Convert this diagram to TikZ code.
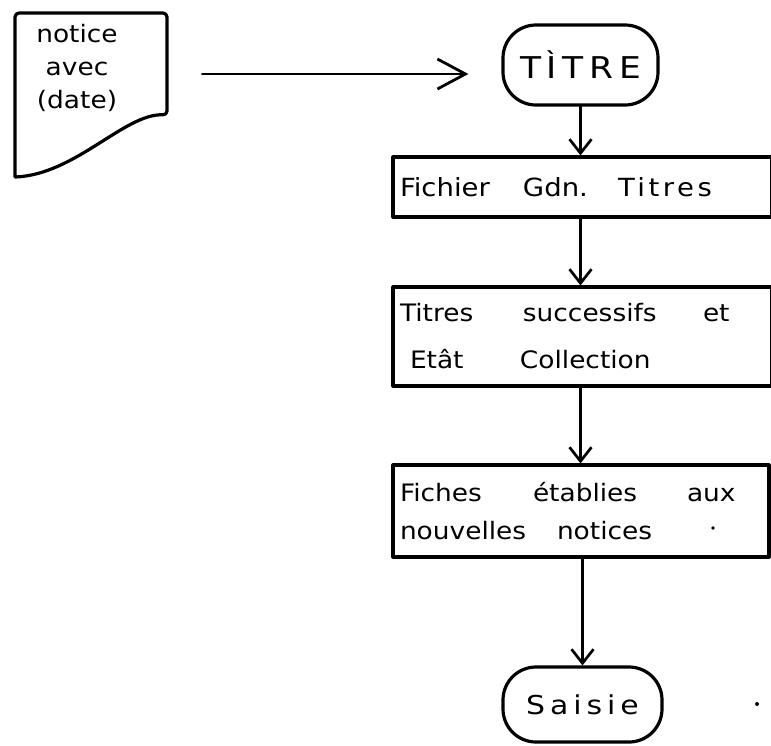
\documentclass[tikz,border=0pt]{standalone}
\usepackage{fontspec}
\setmainfont{DejaVu Sans}
\newfontfamily\hand[FakeStretch=1.1]{DejaVu Sans}
\newfontfamily\handsp[FakeStretch=1.1,LetterSpace=14]{DejaVu Sans}
\newfontfamily\handwide[FakeStretch=1.15,LetterSpace=19]{DejaVu Sans}
\usetikzlibrary{arrows.meta}
\begin{document}
\begin{tikzpicture}[x=1pt,y=-1pt,
  ink/.style={line width=3.2pt,line join=round,line cap=round},
  terminal/.style={ink,draw,rounded corners=33pt,inner sep=0pt},
  procbox/.style={ink,draw,inner xsep=7pt,inner ysep=0pt,align=left},
  arr/.style={line width=2.7pt,line cap=round,
    -{Straight Barb[length=14pt,width=22pt,line width=2.7pt]}},
  harr/.style={line width=2.7pt,line cap=round,
    -{Straight Barb[length=28pt,width=30pt,line width=2.8pt]}}]
\useasboundingbox (0,0) rectangle (771,745);
% document shape
\node[inner sep=0pt,minimum width=152pt,minimum height=164pt] (doc) at (91,95) {};
\draw[ink] (15,177) -- (15,17) [rounded corners=4pt] -- (15,13) -- (167,13) -- (167,115)
  .. controls (125,113) and (75,175) .. (15,177);
\node[align=center,inner sep=0pt,font=\hand\fontsize{24}{33}\selectfont] (doctext) at (77,68)
  {notice\\avec\\(date)};
% terminals
\node[terminal,minimum width=155pt,minimum height=80pt,
  font=\handwide\fontsize{30}{36}\selectfont] (titre) at (580.5,65) {TÌTRE};
\node[terminal,minimum width=159pt,minimum height=75pt,
  font=\handwide\fontsize{26}{30}\selectfont] (saisie) at (582.5,704.5) {Saisie};
% process boxes
\node[procbox,text width=365pt,minimum height=60pt,font=\hand\fontsize{25}{30}\selectfont]
  (box1) at (582.5,187)
  {\makebox[123pt][l]{Fichier}\makebox[95pt][l]{Gdn.}{\handsp Titres}};
\node[procbox,text width=365pt,minimum height=99pt,font=\hand\fontsize{24}{47}\selectfont]
  (box2) at (582.5,336.5)
  {\makebox[123pt][l]{Titres}\makebox[180pt][l]{successifs}et\\
   \hspace*{10pt}\makebox[110pt][l]{Etât}Collection};
\node[procbox,text width=362pt,minimum height=92pt,font=\hand\fontsize{24}{38}\selectfont]
  (box3) at (581,511)
  {\makebox[133pt][l]{Fiches}\makebox[154pt][l]{établies}aux\\
   \makebox[157pt][l]{nouvelles}notices};
% dots
\fill (713,528) circle (1.8pt);
\fill (757,704) circle (2pt);
% connectors
\draw[harr,shorten <=35pt,shorten >=33pt] ([yshift=-9pt]doc.east |- titre.west) -- ([yshift=-9pt]titre.west);
\draw[arr] (titre.south) -- (titre.south |- box1.north);
\draw[arr] (box1.south -| titre.south) -- (titre.south |- box2.north);
\draw[arr] (box2.south -| titre.south) -- (titre.south |- box3.north);
\draw[arr] (box3.south -| saisie.north) -- (saisie.north);
\end{tikzpicture}
\end{document}
